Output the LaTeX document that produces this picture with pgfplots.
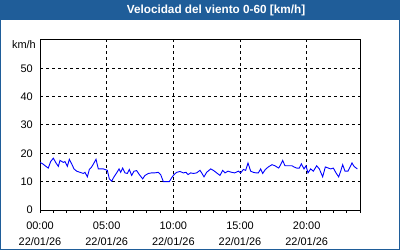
\documentclass[border=0pt]{standalone}
\usepackage{fontspec}
\setmainfont{Liberation Sans}
\usepackage{pgfplots}
\pgfplotsset{compat=1.18}
\definecolor{titlebg}{RGB}{31,93,153}
\definecolor{windblue}{RGB}{0,0,255}
\begin{document}
\begin{tikzpicture}
\useasboundingbox (0bp,0bp) rectangle (400bp,250bp);
\fill[white] (0bp,0bp) rectangle (400bp,250bp);
\fill[titlebg] (0bp,230bp) rectangle (400bp,250bp);
\draw[titlebg, line width=1bp] (0.5bp,0.5bp) rectangle (399.5bp,249.5bp);
\node[anchor=base, text=white, inner sep=0pt, font=\bfseries\fontsize{11.8}{14}\selectfont] at (216bp,236bp) {Velocidad del viento 0-60 [km/h]};
\node[anchor=base east, inner sep=0pt, font=\fontsize{11}{13}\selectfont] at (36bp,201bp) {km/h};
\begin{axis}[
  at={(40bp,40bp)}, anchor=south west,
  scale only axis, width=320bp, height=170bp,
  xmin=0, xmax=24, ymin=0, ymax=60,
  /pgf/number format/assume math mode=true,
  axis line style={black, line width=1bp},
  xmajorgrids, ymajorgrids,
  grid style={black, line width=1bp, dash pattern=on 3bp off 3bp},
  xtick={0,5,10,15,20},
  minor xtick={1,2,3,4,6,7,8,9,11,12,13,14,16,17,18,19,21,22,23,24},
  xtick pos=lower, ytick pos=left,
  tick align=outside,
  major tick length=3bp, minor tick length=3bp,
  every tick/.style={black, line width=1bp},
  ytick={0,10,20,30,40,50},
  ytick style={draw=none},
  xticklabels={{00:00\\22/01/26},{05:00\\22/01/26},{10:00\\22/01/26},{15:00\\22/01/26},{20:00\\22/01/26}},
  xticklabel style={align=center, font=\fontsize{11}{15.5}\selectfont, inner sep=0pt, anchor=north, yshift=-9bp},
  yticklabel style={font=\fontsize{11}{13}\selectfont, inner sep=0pt, anchor=east, xshift=-4bp},
]
\addplot[windblue, line width=0.9bp] coordinates {
(0.0,16.8)(0.2,16.3)(0.5,15.2)(0.62,14.8)(0.8,17.1)(1.0,18.3)(1.2,16.6)(1.375,15.4)(1.5,17.5)(1.75,16.8)(1.875,17.1)(2.05,15.4)(2.2,17.9)(2.375,16.3)(2.55,14.5)(2.75,13.7)(3.0,13.3)(3.25,12.9)(3.375,13.3)(3.55,11.7)(3.7,14.3)(3.875,15.2)(4.05,16.6)(4.2,17.9)(4.375,14.5)(4.55,14.5)(4.75,14.5)(4.875,14.3)(5.05,14.0)(5.2,11.0)(5.375,10.2)(5.55,11.7)(5.75,13.1)(5.93,14.5)(6.05,13.3)(6.2,14.8)(6.375,13.1)(6.55,12.9)(6.7,14.3)(6.875,12.2)(7.05,13.7)(7.25,13.9)(7.45,12.5)(7.7,11.0)(7.875,12.2)(8.125,12.9)(8.375,13.1)(8.6,13.1)(8.875,13.3)(9.05,12.5)(9.25,10.0)(9.5,10.0)(9.7,10.0)(9.875,11.4)(10.05,12.5)(10.25,13.3)(10.5,13.6)(10.75,13.1)(10.95,13.3)(11.1,12.5)(11.3,13.1)(11.5,12.9)(11.75,13.1)(12.0,14.0)(12.125,13.1)(12.3,11.7)(12.5,13.3)(12.8,14.5)(13.0,14.0)(13.25,13.1)(13.5,12.2)(13.7,14.0)(13.875,13.1)(14.1,13.7)(14.375,13.3)(14.6,13.1)(14.875,13.7)(15.05,13.1)(15.25,14.3)(15.425,14.0)(15.6,16.6)(15.8,13.7)(16.0,13.3)(16.2,13.1)(16.375,13.1)(16.55,14.5)(16.7,12.9)(16.9,14.3)(17.125,15.2)(17.4,16.0)(17.625,15.6)(17.9,14.8)(18.05,16.0)(18.2,17.5)(18.375,15.6)(18.55,15.6)(18.9,15.6)(19.05,15.2)(19.25,14.8)(19.45,14.8)(19.6,16.3)(19.8,14.5)(19.95,15.6)(20.1,13.1)(20.3,14.5)(20.5,13.7)(20.75,15.6)(20.95,14.5)(21.2,11.7)(21.4,15.2)(21.625,14.8)(21.8,14.5)(22.0,14.8)(22.2,13.1)(22.4,11.7)(22.55,13.7)(22.7,16.0)(22.875,13.7)(23.1,13.7)(23.4,16.6)(23.55,15.4)(23.8,14.5)
};
\end{axis}
\end{tikzpicture}
\end{document}
